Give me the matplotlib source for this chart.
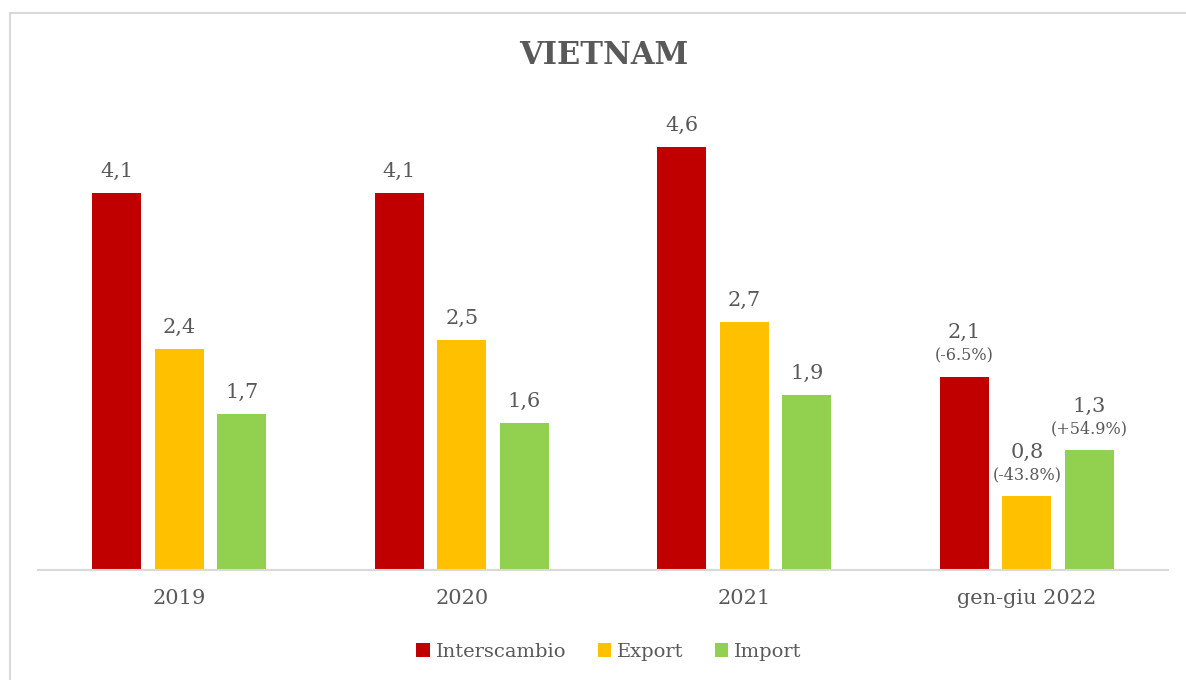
import numpy as np
import matplotlib.pyplot as plt
from matplotlib.patches import Patch
from matplotlib.lines import Line2D

# Trade Italy-Vietnam (billion EUR)
periods = ['2019', '2020', '2021', 'gen-giu 2022']
interscambio = [4.1, 4.1, 4.6, 2.1]
export = [2.4, 2.5, 2.7, 0.8]
imports = [1.7, 1.6, 1.9, 1.3]
# year-on-year change shown for the partial year only
var_interscambio = [None, None, None, '(-6.5%)']
var_export = [None, None, None, '(-43.8%)']
var_import = [None, None, None, '(+54.9%)']

series = [
    ('Interscambio', interscambio, var_interscambio, '#C00000'),
    ('Export', export, var_export, '#FFC000'),
    ('Import', imports, var_import, '#92D050'),
]

text_color = '#595959'
grid_color = '#D9D9D9'
plt.rcParams['font.family'] = 'DejaVu Serif'

W, H = 1186, 680
fig = plt.figure(figsize=(W / 100, H / 100), dpi=100)

# chart area border (top and left edges visible)
fig.add_artist(Line2D([10 / W, 1.0], [1 - 13 / H, 1 - 13 / H],
                      color=grid_color, lw=1.5, transform=fig.transFigure))
fig.add_artist(Line2D([10 / W, 10 / W], [0, 1 - 13 / H],
                      color=grid_color, lw=1.5, transform=fig.transFigure))

ax = fig.add_axes([38 / W, 1 - 570 / H, 1130 / W, 470 / H])

x = np.arange(len(periods))
width = 0.173
step = 0.221

for i, (name, vals, var, color) in enumerate(series):
    xpos = x + (i - 1) * step
    ax.bar(xpos, vals, width=width, color=color, label=name)
    for xp, v, pct in zip(xpos, vals, var):
        label = f'{v:.1f}'.replace('.', ',')
        if pct is None:
            ax.annotate(label, (xp, v), xytext=(0, 11.5),
                        textcoords='offset points', ha='center',
                        va='baseline', fontsize=15, color=text_color)
        else:
            ax.annotate(pct, (xp, v), xytext=(0, 12),
                        textcoords='offset points', ha='center',
                        va='baseline', fontsize=11.5, color=text_color)
            ax.annotate(label, (xp, v), xytext=(0, 28),
                        textcoords='offset points', ha='center',
                        va='baseline', fontsize=15, color=text_color)

ax.set_xlim(-0.5, len(periods) - 0.5)
ax.set_ylim(0, 470 / 92.0)
ax.set_xticks(x)
ax.set_xticklabels(periods, fontsize=15, color=text_color)
ax.tick_params(axis='x', length=0, pad=14)
ax.set_yticks([])
for side in ['top', 'right', 'left']:
    ax.spines[side].set_visible(False)
ax.spines['bottom'].set_color(grid_color)
ax.spines['bottom'].set_linewidth(1.5)

fig.text(604 / W, 1 - 56 / H, 'VIETNAM', ha='center', va='center',
         fontsize=22, fontweight='bold', color=text_color)

handles = [Patch(facecolor=c, label=n) for n, _, _, c in series]
fig.legend(handles=handles, loc='center', bbox_to_anchor=(609 / W, 1 - 652 / H),
           ncol=3, frameon=False, fontsize=14, labelcolor=text_color,
           handlelength=0.7, handleheight=0.7, handletextpad=0.3,
           columnspacing=1.6)

fig.savefig('out.png', dpi=100)
